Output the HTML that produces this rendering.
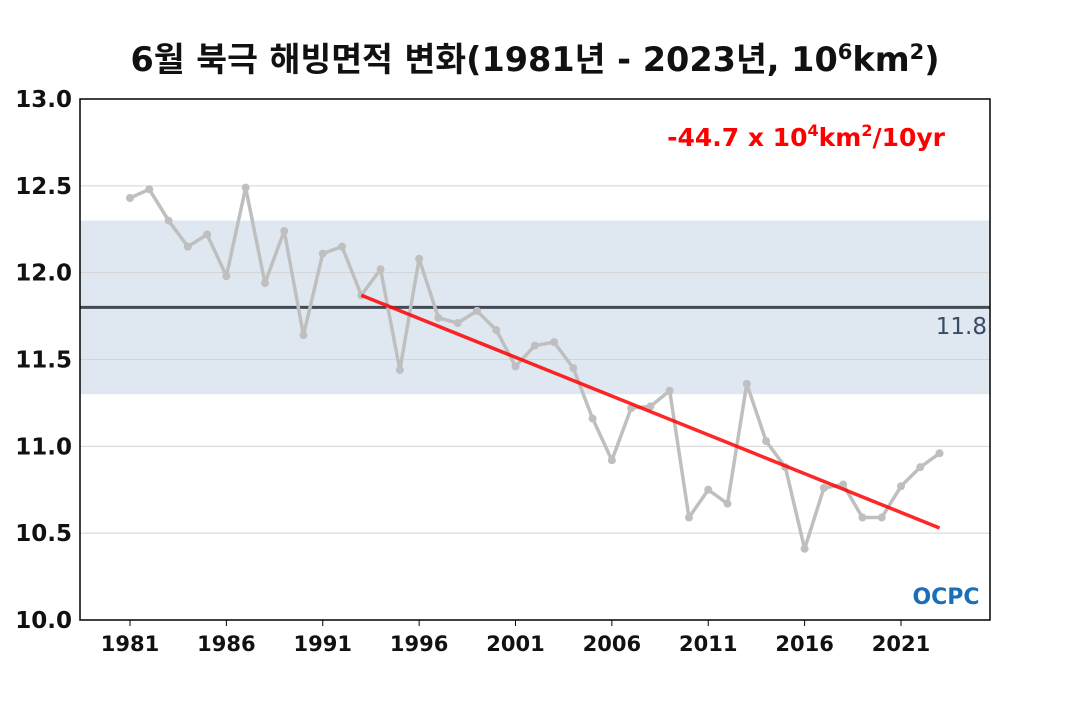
<!DOCTYPE html>
<html><head><meta charset="utf-8"><style>
body{margin:0;background:#fff;}
svg text{font-family:"DejaVu Sans","Noto Sans CJK KR",sans-serif;}
</style></head><body>
<svg width="1070" height="700" id="c">
<text x="535" y="71" text-anchor="middle" font-size="33.5" font-weight="bold" fill="#111">6월 북극 해빙면적 변화(1981년 - 2023년, 10<tspan dy="-12" font-size="21">6</tspan><tspan dy="12">km</tspan><tspan dy="-12" font-size="21">2</tspan><tspan dy="12">)</tspan></text>
<g id="plot"></g>
<text x="945" y="146" text-anchor="end" font-size="25" font-weight="bold" fill="#f00">-44.7 x 10<tspan dy="-10" font-size="16">4</tspan><tspan dy="10">km</tspan><tspan dy="-10" font-size="16">2</tspan><tspan dy="10">/10yr</tspan></text>
<text x="987" y="334" text-anchor="end" font-size="23" fill="#3a4a66">11.8</text>
<text x="946" y="604" text-anchor="middle" font-size="22" font-weight="bold" fill="#1a6fb8">OCPC</text>
</svg>
<script>
const years=[];for(let y=1981;y<=2023;y++)years.push(y);
const values=[12.43,12.48,12.30,12.15,12.22,11.98,12.49,11.94,12.24,11.64,12.11,12.15,11.87,12.02,11.44,12.08,11.74,11.71,11.78,11.67,11.46,11.58,11.60,11.45,11.16,10.92,11.22,11.23,11.32,10.59,10.75,10.67,11.36,11.03,10.88,10.41,10.76,10.78,10.59,10.59,10.77,10.88,10.96];
const yTicks=[10.0,10.5,11.0,11.5,12.0,12.5,13.0];
const xTicks=[1981,1986,1991,1996,2001,2006,2011,2016,2021];
const meanVal=[11.8];
const band=[11.3,12.3];
const trend=[1993,11.87,2023,10.53];
const L=80,R=990,T=99,B=620;
const X=v=>130+(v-1981)*19.275;
const Y=v=>B-(v-10)*(B-T)/3;
const g=document.getElementById('plot');
const NS='http://www.w3.org/2000/svg';
function mk(t,a){const e=document.createElementNS(NS,t);for(const k in a)e.setAttribute(k,a[k]);g.appendChild(e);return e;}
let e=mk('rect',{x:L,y:Y(band[1]),width:R-L,height:Y(band[0])-Y(band[1]),fill:'#dfe8f1'});


yTicks.forEach(v=>{
 const l=mk('line',{x1:L,x2:R,y1:Y(v),y2:Y(v),stroke:'#d4d4d4','stroke-width':1});
 
 
 const t=mk('text',{x:L-8,y:Y(v)+8,'text-anchor':'end','font-size':23,'font-weight':'bold',fill:'#111'});
 t.textContent=v.toFixed(1);
 
 
});
xTicks.forEach(v=>{
 const l=mk('line',{x1:X(v),x2:X(v),y1:B,y2:B+6,stroke:'#000'});
 
 
 const t=mk('text',{x:X(v),y:B+31,'text-anchor':'middle','font-size':21,'font-weight':'bold',fill:'#111'});
 t.textContent=v;
 
 
});
e=mk('line',{x1:L,x2:R,y1:Y(meanVal[0]),y2:Y(meanVal[0]),stroke:'#424a55','stroke-width':3});


e=mk('polyline',{points:years.map((y,i)=>X(y)+','+Y(values[i])).join(' '),fill:'none',stroke:'#bfbfbf','stroke-width':3.5,'stroke-linejoin':'round'});


years.forEach((y,i)=>{
 const c=mk('circle',{cx:X(y),cy:Y(values[i]),r:4,fill:'#bfbfbf'});
 
 
});
e=mk('line',{x1:X(trend[0]),y1:Y(trend[1]),x2:X(trend[2]),y2:Y(trend[3]),stroke:'#f00','stroke-width':3.5,'stroke-opacity':0.85});


e=mk('rect',{x:L,y:T,width:R-L,height:B-T,fill:'none',stroke:'#000','stroke-width':1.5});


</script>
</body></html>
